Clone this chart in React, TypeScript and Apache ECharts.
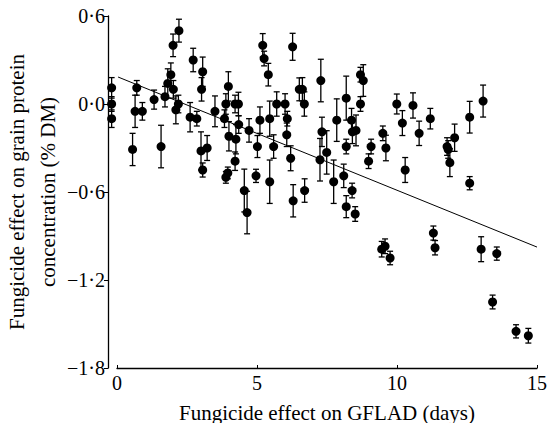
import React, { useEffect, useRef } from "react";
import * as echarts from "echarts";

// Fungicide effect on GFLAD (days)
const gflad: number[] = [
  -0.23, -0.23, -0.23, 0.61, 0.67, 0.87, 0.52, 1.29, 1.54, 1.68,
  1.78, 1.89, 1.98, 2.07, 2.16, 1.97, 2.18, 2.69, 3.03, 2.99,
  2.58, 2.82, 2.97, 3.19, 3.03, 3.47, 3.81, 3.86, 3.95, 3.97,
  4.19, 4.31, 4.32, 4.22, 4.19, 3.86, 3.93, 4.69, 5.08, 4.99,
  4.94, 5.18, 5.23, 5.38, 5.43, 5.57, 5.43, 5.68, 5.98, 6.06,
  6.04, 6.18, 6.25, 6.49, 6.6, 6.67, 7.26, 7.3, 7.47, 7.23,
  4.52, 4.62, 6.27, 6.68, 7.72, 8.08, 8.38, 8.17, 8.49, 7.83,
  8.17, 8.17, 8.36, 8.39, 8.52, 8.68, 8.78, 8.68, 8.97, 9.06,
  9.48, 9.59, 9.98, 10.18, 10.56, 10.78, 11.18, 10.28, 11.78, 11.82,
  11.88, 12.05, 12.59, 13.07, 12.59, 9.44, 9.56, 9.74, 11.29, 11.35,
  13.0, 13.56, 13.41, 14.25, 14.69,
];

// Fungicide effect on grain protein concentration (% DM)
const protein: number[] = [
  0.11, 0.0, -0.1, -0.05, 0.11, -0.05, -0.31, 0.03, -0.29, 0.05,
  0.14, 0.2, 0.1, -0.04, 0.0, 0.4, 0.5, 0.3, 0.22, 0.1,
  -0.09, -0.1, -0.32, -0.3, -0.45, -0.05, -0.1, 0.0, 0.12, -0.22,
  0.0, 0.0, -0.14, -0.24, -0.39, -0.5, -0.47, -0.18, -0.11, -0.29,
  -0.49, 0.4, 0.31, 0.2, -0.1, -0.29, -0.53, 0.0, 0.0, -0.1,
  -0.21, -0.37, 0.39, 0.1, 0.1, 0.0, 0.16, -0.19, -0.33, -0.38,
  -0.59, -0.74, -0.66, -0.59, -0.53, -0.49, -0.59, -0.7, -0.75, -0.11,
  0.04, -0.29, -0.11, -0.19, -0.18, 0.2, 0.16, 0.0, -0.39, -0.29,
  -0.2, -0.3, 0.0, -0.13, -0.01, -0.2, -0.1, -0.45, -0.29, -0.31,
  -0.4, -0.23, -0.09, 0.02, -0.54, -0.99, -0.97, -1.05, -0.88, -0.98,
  -0.99, -1.02, -1.35, -1.55, -1.58,
];

// half-length of the error bars (% DM)
const errors: number[] = [
  0.07, 0.05, 0.06, 0.11, 0.05, 0.06, 0.11, 0.065, 0.145, 0.07,
  0.1, 0.08, 0.06, 0.095, 0.06, 0.077, 0.078, 0.08, 0.1, 0.08,
  0.1, 0.05, 0.13, 0.085, 0.048, 0.105, 0.06, 0.07, 0.1, 0.1,
  0.06, 0.08, 0.06, 0.1, 0.063, 0.04, 0.04, 0.08, 0.09, 0.075,
  0.045, 0.08, 0.05, 0.077, 0.12, 0.08, 0.148, 0.083, 0.07, 0.05,
  0.08, 0.085, 0.092, 0.078, 0.08, 0.083, 0.145, 0.1, 0.148, 0.145,
  0.146, 0.145, 0.11, 0.08, 0.148, 0.08, 0.05, 0.075, 0.05, 0.145,
  0.15, 0.05, 0.08, 0.08, 0.105, 0.05, 0.108, 0.05, 0.05, 0.05,
  0.05, 0.087, 0.068, 0.085, 0.086, 0.083, 0.07, 0.085, 0.06, 0.06,
  0.095, 0.093, 0.108, 0.109, 0.045, 0.053, 0.05, 0.046, 0.048, 0.049,
  0.085, 0.045, 0.047, 0.045, 0.05,
];

// fitted regression line
const regIntercept = 0.184;
const regSlope = -0.0773;
const regRange: number[] = [0, 15];

const xTicks: number[] = [0, 5, 10, 15];
const yTicks: number[] = [0.6, 0.0, -0.6, -1.2, -1.8];

const FONT = '"Liberation Serif", "Times New Roman", serif';

const fmtY = (v: number) =>
  (Math.abs(v) < 1e-9 ? 0 : v).toFixed(1).replace(".", "\u00b7").replace("-", "\u2212");

export default function App() {
  const ref = useRef<HTMLDivElement>(null);
  useEffect(() => {
    if (!ref.current) return;
    const chart = echarts.init(ref.current, null, { renderer: "svg" });
    const pts = gflad.map((x, i) => [x, protein[i], errors[i]]);
    const option: any = {
      animation: false,
      backgroundColor: "#ffffff",
      grid: [
        { left: 108, right: 10, top: 16, bottom: 55, outerBoundsMode: "none" },
        { left: 117, right: 10, top: 16, bottom: 55, outerBoundsMode: "none" },
      ],
      xAxis: [
        {
          gridIndex: 0,
          type: "value",
          min: -0.36,
          max: xTicks[xTicks.length - 1],
          show: false,
        },
        {
          gridIndex: 1,
          type: "value",
          position: "bottom",
          min: xTicks[0],
          max: xTicks[xTicks.length - 1],
          interval: 5,
          name: "Fungicide effect on GFLAD (days)",
          nameLocation: "middle",
          nameGap: 34,
          nameMoveOverlap: false,
          nameTextStyle: { fontFamily: FONT, fontSize: 21, color: "#000" },
          axisLine: { show: true, onZero: false, lineStyle: { color: "#000", width: 1.3 } },
          axisTick: { show: true, inside: true, length: 3, lineStyle: { color: "#000" } },
          axisLabel: { fontFamily: FONT, fontSize: 20, color: "#000", margin: 5 },
          splitLine: { show: false },
        },
      ],
      yAxis: [
        {
          gridIndex: 0,
          type: "value",
          position: "left",
          min: yTicks[yTicks.length - 1],
          max: yTicks[0],
          interval: 0.6,
          name: "Fungicide effect on grain protein\nconcentration (% DM)",
          nameLocation: "middle",
          nameRotate: 90,
          nameGap: 45,
          nameMoveOverlap: false,
          nameTextStyle: { fontFamily: FONT, fontSize: 21, color: "#000", lineHeight: 31 },
          axisLine: { show: true, onZero: false, lineStyle: { color: "#000", width: 1.3 } },
          axisTick: { show: true, inside: false, length: 4, lineStyle: { color: "#000" } },
          axisLabel: { fontFamily: FONT, fontSize: 20, color: "#000", margin: 3, formatter: fmtY },
          splitLine: { show: false },
        },
        {
          gridIndex: 1,
          type: "value",
          min: -1.8,
          max: 0.6,
          show: false,
        },
      ],
      series: [
        {
          type: "line",
          xAxisIndex: 0,
          yAxisIndex: 0,
          data: regRange.map((x) => [x, regIntercept + regSlope * x]),
          symbol: "none",
          lineStyle: { color: "#000", width: 1 },
          silent: true,
        },
        {
          type: "custom",
          xAxisIndex: 0,
          yAxisIndex: 0,
          data: pts,
          renderItem: (params: any, api: any) => {
            const x = api.value(0);
            const y = api.value(1);
            const e = api.value(2);
            const top = api.coord([x, y + e]);
            const bot = api.coord([x, y - e]);
            const hw = 3;
            const st = { stroke: "#000", lineWidth: 1.3 };
            return {
              type: "group",
              children: [
                { type: "line", shape: { x1: top[0], y1: top[1], x2: bot[0], y2: bot[1] }, style: st },
                { type: "line", shape: { x1: top[0] - hw, y1: top[1], x2: top[0] + hw, y2: top[1] }, style: st },
                { type: "line", shape: { x1: bot[0] - hw, y1: bot[1], x2: bot[0] + hw, y2: bot[1] }, style: st },
              ],
            };
          },
          silent: true,
        },
        {
          type: "scatter",
          xAxisIndex: 0,
          yAxisIndex: 0,
          data: pts.map((p) => [p[0], p[1]]),
          symbol: "circle",
          symbolSize: 9,
          itemStyle: { color: "#000", opacity: 1 },
          silent: true,
        },
      ],
    };
    chart.setOption(option);
    return () => chart.dispose();
  }, []);
  return <div ref={ref} style={{ width: 547, height: 423, position: "absolute", left: 0, top: 0 }} />;
}
